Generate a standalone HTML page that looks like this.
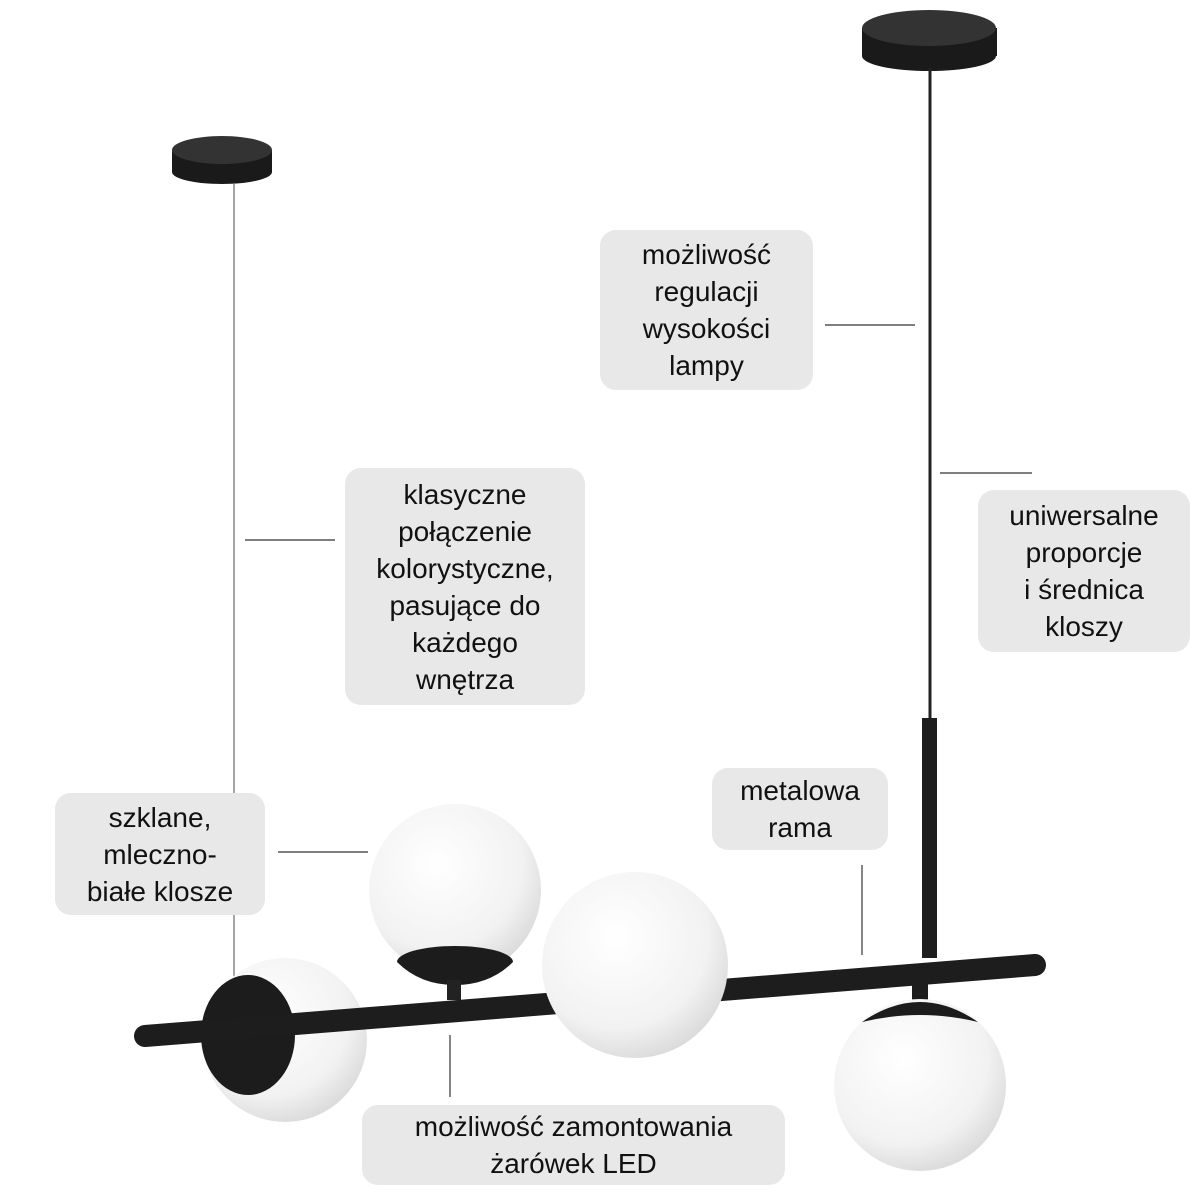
<!DOCTYPE html>
<html><head><meta charset="utf-8"><style>
html,body{margin:0;padding:0;background:#fff;width:1200px;height:1200px;overflow:hidden}
.b{position:absolute;background:#e8e8e8;border-radius:16px;font-family:"Liberation Sans",sans-serif;font-size:28px;line-height:37px;color:#111;text-align:center;display:flex;align-items:center;justify-content:center}
svg{position:absolute;left:0;top:0}
</style></head><body>
<svg width="1200" height="1200" viewBox="0 0 1200 1200">
<defs>
<radialGradient id="g" cx="40%" cy="35%" r="70%"><stop offset="0" stop-color="#fff"/><stop offset=".7" stop-color="#f2f2f2"/><stop offset="1" stop-color="#d8d8d8"/></radialGradient>
</defs>
<rect x="172" y="150" width="100" height="22" fill="#1a1a1a"/>
<ellipse cx="222" cy="172" rx="50" ry="12" fill="#1a1a1a"/>
<ellipse cx="222" cy="150" rx="50" ry="14" fill="#333"/>
<line x1="234" y1="184" x2="234" y2="1040" stroke="#888" stroke-width="1.5"/>
<rect x="862" y="28" width="135" height="28" fill="#1a1a1a"/>
<ellipse cx="929" cy="56" rx="67" ry="15" fill="#1a1a1a"/>
<ellipse cx="929" cy="28" rx="67" ry="18" fill="#333"/>
<line x1="930" y1="68" x2="930" y2="720" stroke="#222" stroke-width="3"/>
<rect x="922" y="718" width="15" height="240" fill="#1d1d1d"/>
<circle cx="455" cy="890" r="86" fill="url(#g)"/>
<path d="M397 962 A58 16 0 0 1 513 962 Q490 985 455 985 Q420 985 397 962Z" fill="#1c1c1c"/>
<rect x="447" y="980" width="14" height="20" fill="#222"/>
<circle cx="285" cy="1040" r="82" fill="url(#g)"/>
<ellipse cx="248" cy="1035" rx="47" ry="60" fill="#1c1c1c"/>
<line x1="145" y1="1036" x2="1035" y2="965" stroke="#1d1d1d" stroke-width="22" stroke-linecap="round"/>
<circle cx="635" cy="965" r="93" fill="url(#g)"/>
<rect x="912" y="972" width="16" height="30" fill="#1d1d1d"/>
<circle cx="920" cy="1085" r="86" fill="url(#g)"/>
<path d="M862 1022 Q920 982 978 1022 Q920 1008 862 1022Z" fill="#1c1c1c"/>
<g stroke="#333" stroke-width="1.2">
<line x1="825" y1="325" x2="915" y2="325"/>
<line x1="940" y1="473" x2="1032" y2="473"/>
<line x1="245" y1="540" x2="335" y2="540"/>
<line x1="278" y1="852" x2="368" y2="852"/>
<line x1="862" y1="865" x2="862" y2="955"/>
<line x1="450" y1="1035" x2="450" y2="1097"/>
</g>
</svg>
<div class="b" style="left:600px;top:230px;width:213px;height:160px">możliwość<br>regulacji<br>wysokości<br>lampy</div>
<div class="b" style="left:978px;top:490px;width:212px;height:162px">uniwersalne<br>proporcje<br>i średnica<br>kloszy</div>
<div class="b" style="left:345px;top:468px;width:240px;height:237px">klasyczne<br>połączenie<br>kolorystyczne,<br>pasujące do<br>każdego<br>wnętrza</div>
<div class="b" style="left:55px;top:793px;width:210px;height:122px">szklane,<br>mleczno-<br>białe klosze</div>
<div class="b" style="left:712px;top:768px;width:176px;height:82px">metalowa<br>rama</div>
<div class="b" style="left:362px;top:1105px;width:423px;height:80px">możliwość zamontowania<br>żarówek LED</div>
</body></html>
